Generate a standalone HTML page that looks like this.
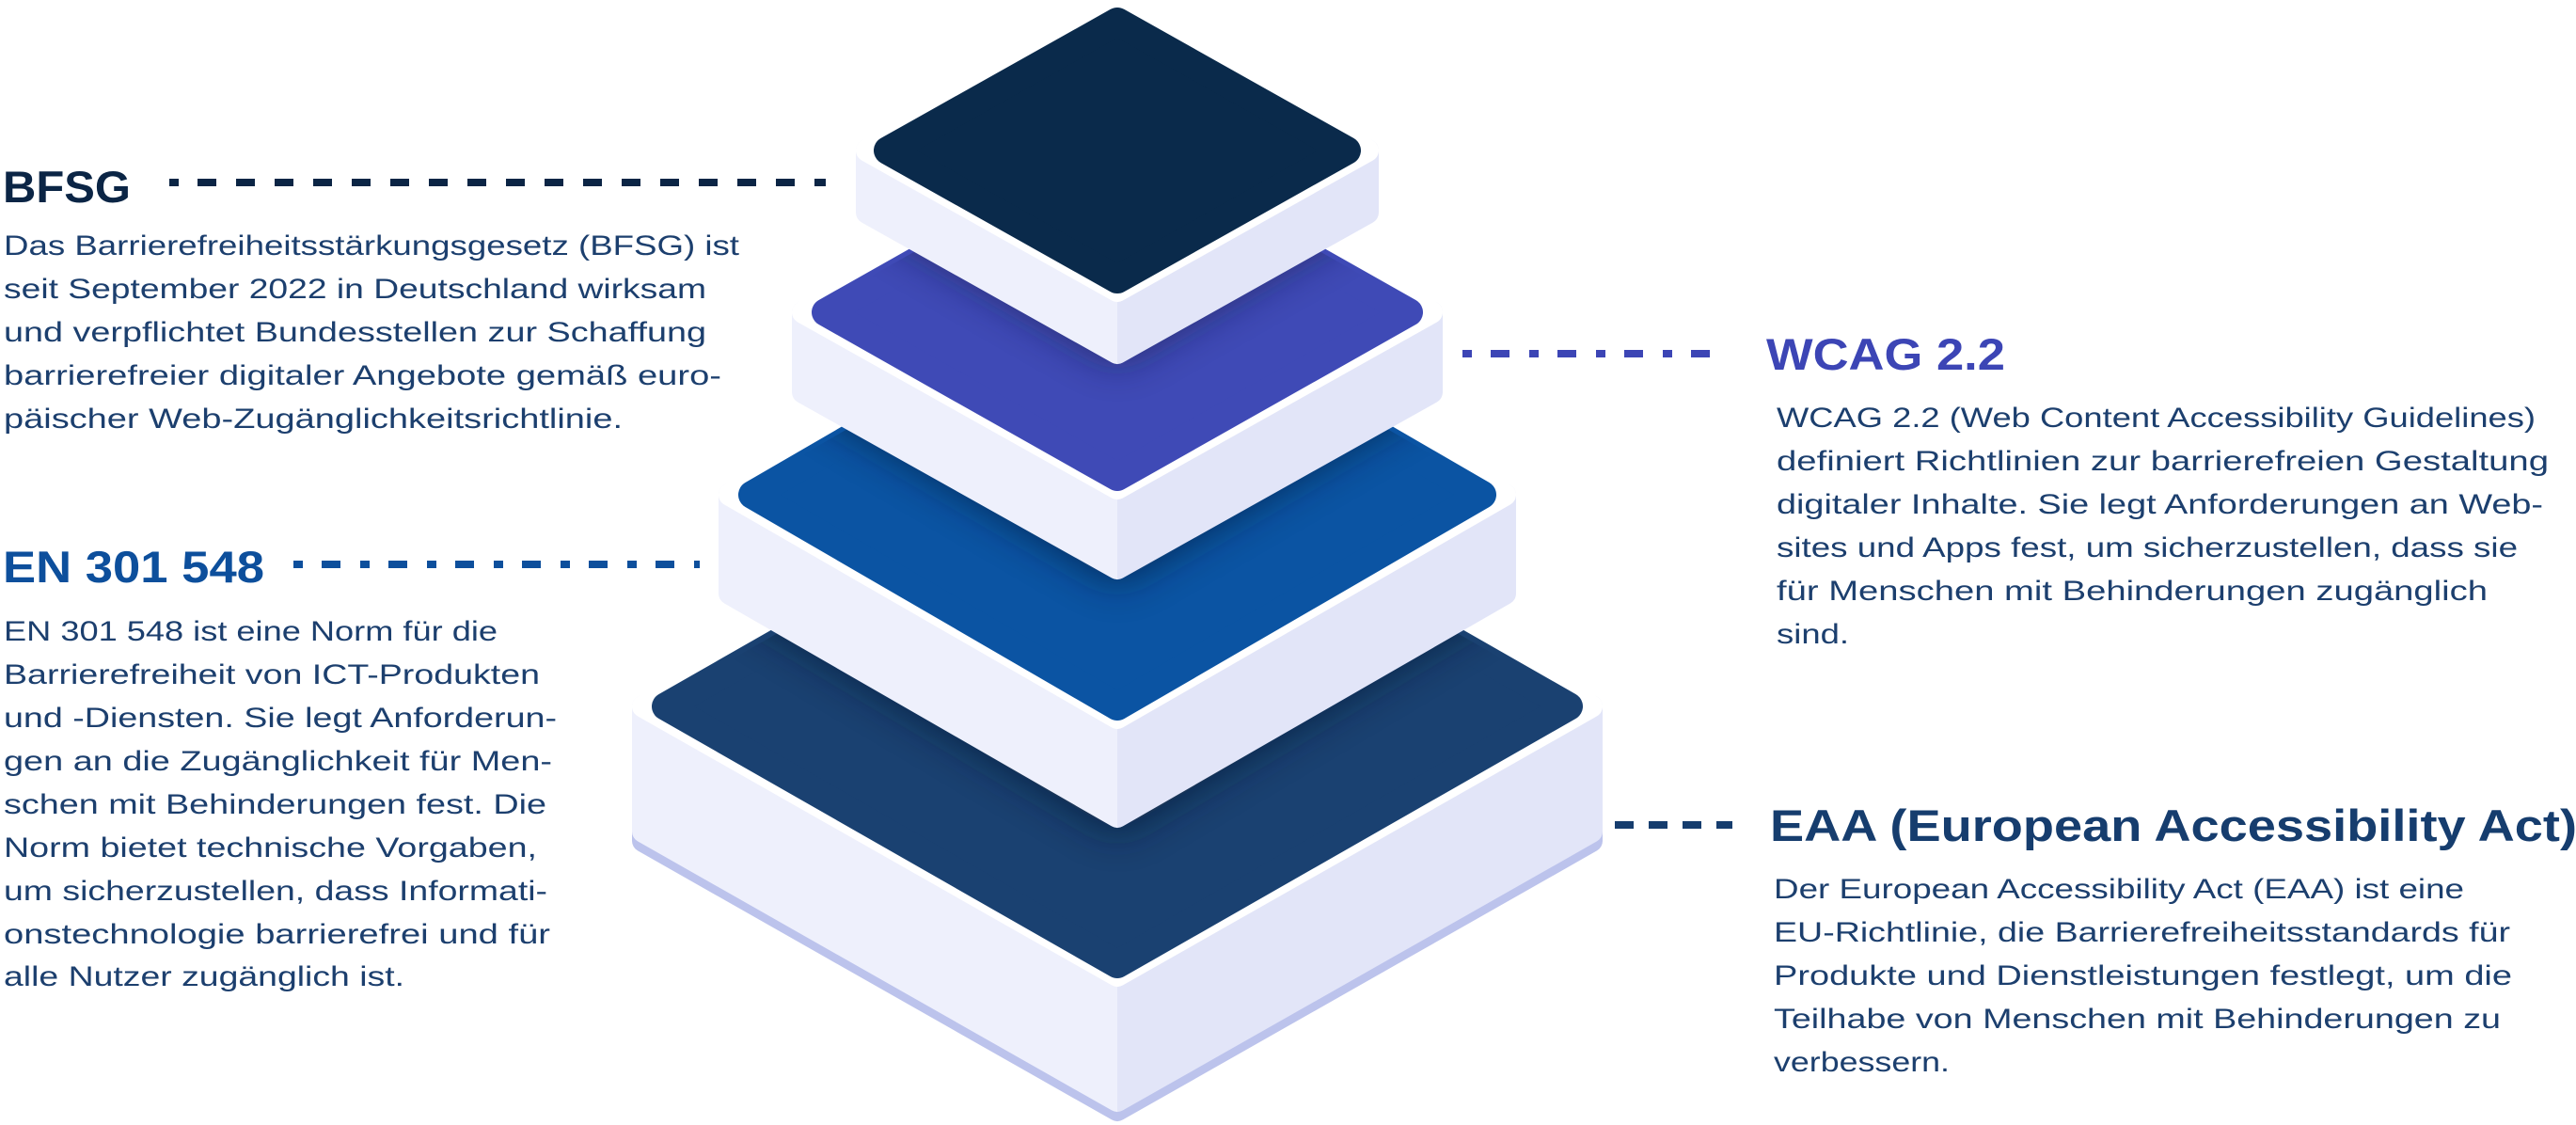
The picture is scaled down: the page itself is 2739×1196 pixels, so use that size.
<!DOCTYPE html>
<html><head><meta charset="utf-8"><style>
html,body{margin:0;padding:0;background:#fff;}
svg{display:block}
.h{font-family:"Liberation Sans",sans-serif;font-weight:bold;font-size:47px}
.b{font-family:"Liberation Sans",sans-serif;font-size:30px;fill:#1c3f6e}
</style></head><body>
<svg width="2739" height="1196" viewBox="0 0 2739 1196" xmlns="http://www.w3.org/2000/svg">
<defs>
<linearGradient id="side" x1="0" x2="1" y1="0" y2="0"><stop offset="0.5" stop-color="#eef0fc"/><stop offset="0.5" stop-color="#e2e5f8"/></linearGradient>
<filter id="bl" x="-20%" y="-50%" width="140%" height="200%"><feGaussianBlur stdDeviation="22"/></filter>
<clipPath id="c4"><polygon points="690,751 1188,467 1686,751 1188,1035"/></clipPath>
<clipPath id="c3"><polygon points="780,526 1188,290 1596,526 1188,762"/></clipPath>
<clipPath id="c2"><polygon points="858,332 1188,146 1518,332 1188,518"/></clipPath>
</defs>

<!-- Tile 4 -->
<g stroke-linejoin="round">
<polygon points="684,761 1188,1047 1692,761 1692,894 1188,1180 684,894" fill="#bcc3ec" stroke="#bcc3ec" stroke-width="24"/>
<polygon points="684,751 1188,1037 1692,751 1692,884 1188,1170 684,884" fill="url(#side)" stroke="url(#side)" stroke-width="24"/>
<polygon points="684,751 1188,469 1692,751 1188,1037" fill="#fff" stroke="#fff" stroke-width="24"/>
<polygon points="708,751 1188,477 1668,751 1188,1025" fill="#1a4171" stroke="#1a4171" stroke-width="30"/>
</g>
<g clip-path="url(#c4)"><polygon points="776,526 1188,763 1600,526 1600,640 1188,885 776,640" fill="#0a1a30" opacity="0.75" filter="url(#bl)"/></g>

<!-- Tile 3 -->
<g stroke-linejoin="round">
<polygon points="776,526 1188,763 1600,526 1600,631 1188,868 776,631" fill="url(#side)" stroke="url(#side)" stroke-width="24"/>
<polygon points="776,526 1188,293 1600,526 1188,763" fill="#fff" stroke="#fff" stroke-width="24"/>
<polygon points="800,526 1188,301 1576,526 1188,751" fill="#0b54a3" stroke="#0b54a3" stroke-width="30"/>
</g>
<g clip-path="url(#c3)"><polygon points="854,332 1188,519 1522,332 1522,425 1188,620 854,425" fill="#0a1a35" opacity="0.7" filter="url(#bl)"/></g>

<!-- Tile 2 -->
<g stroke-linejoin="round">
<polygon points="854,332 1188,519 1522,332 1522,417 1188,604 854,417" fill="url(#side)" stroke="url(#side)" stroke-width="24"/>
<polygon points="854,332 1188,149 1522,332 1188,519" fill="#fff" stroke="#fff" stroke-width="24"/>
<polygon points="878,332 1188,157 1498,332 1188,507" fill="#3f4ab6" stroke="#3f4ab6" stroke-width="30"/>
</g>
<g clip-path="url(#c2)"><polygon points="922,160 1188,309 1454,160 1454,232 1188,385 922,232" fill="#151a40" opacity="0.7" filter="url(#bl)"/></g>

<!-- Tile 1 -->
<g stroke-linejoin="round">
<polygon points="922,160 1188,309 1454,160 1454,226 1188,375 922,226" fill="url(#side)" stroke="url(#side)" stroke-width="24"/>
<polygon points="922,160 1188,15 1454,160 1188,309" fill="#fff" stroke="#fff" stroke-width="24"/>
<polygon points="944,160 1188,23 1432,160 1188,297" fill="#0a2a4b" stroke="#0a2a4b" stroke-width="30"/>
</g>

<!-- connectors -->
<line x1="180" y1="194" x2="878" y2="194" stroke="#0b2545" stroke-width="8" stroke-dasharray="10 20 20 21 20 21 20 21 20 21 20 21 20 21 20 21 20 21 20 21 20 21 20 21 20 21 20 21 20 21 20 21 20 21 20 21 20 21"/>
<line x1="312" y1="600" x2="744" y2="600" stroke="#0d4f9c" stroke-width="8" stroke-dasharray="10 20 20 21"/>
<line x1="1555" y1="376" x2="1837" y2="376" stroke="#3c45b5" stroke-width="8" stroke-dasharray="10 20 20 21"/>
<line x1="1717" y1="877" x2="1842" y2="877" stroke="#163d6e" stroke-width="8" stroke-dasharray="20 16"/>

<!-- Left texts -->
<text class="h" x="3" y="215" fill="#0b2545" textLength="136" lengthAdjust="spacingAndGlyphs">BFSG</text>
<text class="b" x="4" y="271" textLength="782" lengthAdjust="spacingAndGlyphs">Das Barrierefreiheitsstärkungsgesetz (BFSG) ist</text>
<text class="b" x="4" y="317" textLength="747" lengthAdjust="spacingAndGlyphs">seit September 2022 in Deutschland wirksam</text>
<text class="b" x="4" y="363" textLength="747" lengthAdjust="spacingAndGlyphs">und verpflichtet Bundesstellen zur Schaffung</text>
<text class="b" x="4" y="409" textLength="763" lengthAdjust="spacingAndGlyphs">barrierefreier digitaler Angebote gemäß euro-</text>
<text class="b" x="4" y="455" textLength="658" lengthAdjust="spacingAndGlyphs">päischer Web-Zugänglichkeitsrichtlinie.</text>

<text class="h" x="3" y="619" fill="#0d4f9c" textLength="278" lengthAdjust="spacingAndGlyphs">EN 301 548</text>
<text class="b" x="4" y="681" textLength="525" lengthAdjust="spacingAndGlyphs">EN 301 548 ist eine Norm für die</text>
<text class="b" x="4" y="727" textLength="570" lengthAdjust="spacingAndGlyphs">Barrierefreiheit von ICT-Produkten</text>
<text class="b" x="4" y="773" textLength="588" lengthAdjust="spacingAndGlyphs">und -Diensten. Sie legt Anforderun-</text>
<text class="b" x="4" y="819" textLength="583" lengthAdjust="spacingAndGlyphs">gen an die Zugänglichkeit für Men-</text>
<text class="b" x="4" y="865" textLength="577" lengthAdjust="spacingAndGlyphs">schen mit Behinderungen fest. Die</text>
<text class="b" x="4" y="911" textLength="567" lengthAdjust="spacingAndGlyphs">Norm bietet technische Vorgaben,</text>
<text class="b" x="4" y="957" textLength="578" lengthAdjust="spacingAndGlyphs">um sicherzustellen, dass Informati-</text>
<text class="b" x="4" y="1003" textLength="581" lengthAdjust="spacingAndGlyphs">onstechnologie barrierefrei und für</text>
<text class="b" x="4" y="1048" textLength="426" lengthAdjust="spacingAndGlyphs">alle Nutzer zugänglich ist.</text>

<!-- Right texts -->
<text class="h" x="1878" y="393" fill="#3c45b5" textLength="254" lengthAdjust="spacingAndGlyphs">WCAG 2.2</text>
<text class="b" x="1889" y="454" textLength="807" lengthAdjust="spacingAndGlyphs">WCAG 2.2 (Web Content Accessibility Guidelines)</text>
<text class="b" x="1889" y="500" textLength="821" lengthAdjust="spacingAndGlyphs">definiert Richtlinien zur barrierefreien Gestaltung</text>
<text class="b" x="1889" y="546" textLength="815" lengthAdjust="spacingAndGlyphs">digitaler Inhalte. Sie legt Anforderungen an Web-</text>
<text class="b" x="1889" y="592" textLength="788" lengthAdjust="spacingAndGlyphs">sites und Apps fest, um sicherzustellen, dass sie</text>
<text class="b" x="1889" y="638" textLength="756" lengthAdjust="spacingAndGlyphs">für Menschen mit Behinderungen zugänglich</text>
<text class="b" x="1889" y="684" textLength="77" lengthAdjust="spacingAndGlyphs">sind.</text>

<text class="h" x="1882" y="894" fill="#163d6e" textLength="858" lengthAdjust="spacingAndGlyphs">EAA (European Accessibility Act)</text>
<text class="b" x="1886" y="955" textLength="734" lengthAdjust="spacingAndGlyphs">Der European Accessibility Act (EAA) ist eine</text>
<text class="b" x="1886" y="1001" textLength="783" lengthAdjust="spacingAndGlyphs">EU-Richtlinie, die Barrierefreiheitsstandards für</text>
<text class="b" x="1886" y="1047" textLength="785" lengthAdjust="spacingAndGlyphs">Produkte und Dienstleistungen festlegt, um die</text>
<text class="b" x="1886" y="1093" textLength="773" lengthAdjust="spacingAndGlyphs">Teilhabe von Menschen mit Behinderungen zu</text>
<text class="b" x="1886" y="1139" textLength="187" lengthAdjust="spacingAndGlyphs">verbessern.</text>
</svg>
</body></html>
